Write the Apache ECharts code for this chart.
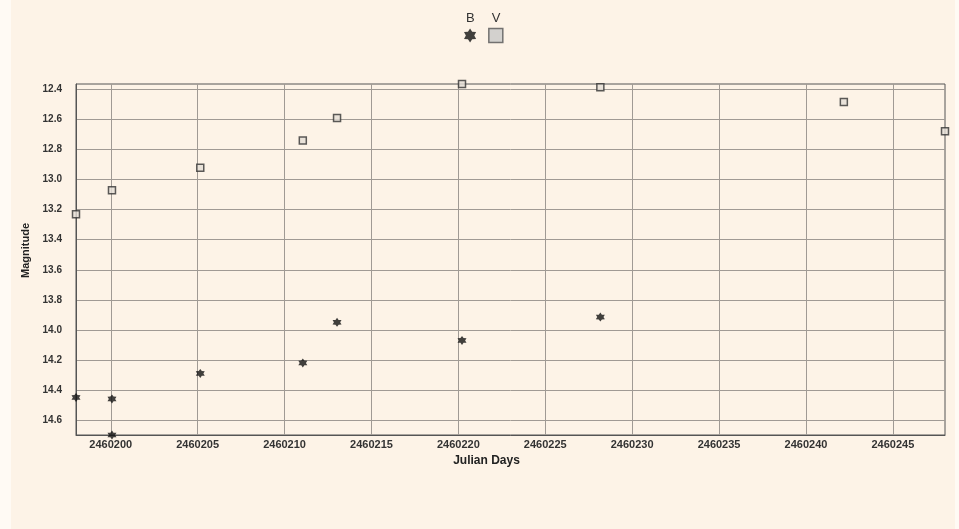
<!DOCTYPE html>
<html>
<head>
<meta charset="utf-8">
<script src="https://cdn.jsdelivr.net/npm/echarts@6/dist/echarts.min.js"></script>
<style>
  html, body { margin: 0; padding: 0; background: #fffaf4; }
  #chart { position: absolute; left: 11px; top: 0; width: 944px; height: 529px; background: #fdf3e7; }
</style>
</head>
<body>
<div id="chart"></div>
<script>
// Photometry of the variable: Julian day vs. magnitude in B and V bands
const bDays = [2460198.0, 2460200.07, 2460200.07, 2460205.15, 2460211.05, 2460213.02, 2460220.21, 2460228.17];
const bMag  = [14.45, 14.46, 14.70, 14.29, 14.22, 13.95, 14.07, 13.915];

const vDays = [2460198.0, 2460200.07, 2460205.15, 2460211.05, 2460213.02, 2460220.21, 2460228.17, 2460242.18, 2460248.0];
const vMag  = [13.23, 13.07, 12.92, 12.74, 12.59, 12.363, 12.385, 12.483, 12.677];

const xTicks = [2460200, 2460205, 2460210, 2460215, 2460220, 2460225, 2460230, 2460235, 2460240, 2460245];
const yTicks = [12.4, 12.6, 12.8, 13.0, 13.2, 13.4, 13.6, 13.8, 14.0, 14.2, 14.4, 14.6];

const starPath = 'path://M0,-10L3,-5.2L8.66,-5L6,0L8.66,5L3,5.2L0,10L-3,5.2L-8.66,5L-6,0L-8.66,-5L-3,-5.2Z';

const pair = (xs, ys) => xs.map((x, i) => [x, ys[i]]);

const chart = echarts.init(document.getElementById('chart'), null, { renderer: 'canvas' });
const FONT = 'Liberation Sans, Arial, sans-serif';

chart.setOption({
  animation: false,
  backgroundColor: '#fdf3e7',
  grid: { left: 65, right: 10, top: 84, bottom: 94, show: true, borderColor: '#555', borderWidth: 1, backgroundColor: 'transparent' },
  legend: {
    top: 5,
    left: 448,
    itemWidth: 14,
    itemHeight: 14,
    itemGap: 6,
    data: [
      { name: 'B', icon: starPath, itemStyle: { color: '#111', borderWidth: 0 } },
      { name: 'V', icon: 'rect', itemStyle: { color: '#c8c8c8', borderColor: '#555', borderWidth: 1.5 } }
    ],
    // label sits above its symbol: first line carries the name, blank lines push it up
    formatter: name => name + '\n \n ',
    textStyle: { fontFamily: FONT, fontSize: 13, lineHeight: 17, color: '#333', padding: [0, 0, 0, -16] }
  },
  xAxis: {
    type: 'value',
    min: 'dataMin',
    max: 'dataMax',
    name: 'Julian Days',
    nameLocation: 'middle',
    nameGap: 17,
    nameTextStyle: { fontFamily: FONT, fontSize: 12, fontWeight: 'bold', color: '#222', padding: [0, 48, 0, 0] },
    axisLine: { show: true, lineStyle: { color: '#555', width: 1 } },
    axisTick: { show: false, customValues: xTicks },
    axisLabel: { customValues: xTicks, margin: 4, formatter: v => String(v), fontFamily: FONT, fontSize: 11, fontWeight: 'bold', color: '#333' },
    splitLine: { show: true, lineStyle: { color: '#a09a94', width: 1 } }
  },
  yAxis: {
    type: 'value',
    inverse: true,
    min: 'dataMin',
    max: 'dataMax',
    name: 'Magnitude',
    nameLocation: 'middle',
    nameGap: 40,
    nameRotate: 90,
    nameTextStyle: { fontFamily: FONT, fontSize: 11, fontWeight: 'bold', color: '#222', padding: [0, 0, 0, 18] },
    axisLine: { show: true, lineStyle: { color: '#555', width: 1 } },
    axisTick: { show: false, customValues: yTicks },
    axisLabel: { customValues: yTicks, margin: 14, formatter: v => v.toFixed(1), fontFamily: FONT, fontSize: 10, fontWeight: 'bold', color: '#333' },
    splitLine: { show: true, lineStyle: { color: '#a09a94', width: 1 } }
  },
  series: [
    {
      name: 'B',
      type: 'scatter',
      symbol: starPath,
      symbolSize: 9,
      itemStyle: { color: '#111' },
      data: pair(bDays, bMag),
      z: 3
    },
    {
      name: 'V',
      type: 'scatter',
      symbol: 'rect',
      symbolSize: 7,
      itemStyle: { color: '#e4ddd6', borderColor: '#333', borderWidth: 1.5 },
      data: pair(vDays, vMag),
      z: 4
    }
  ]
});
</script>
</body>
</html>
